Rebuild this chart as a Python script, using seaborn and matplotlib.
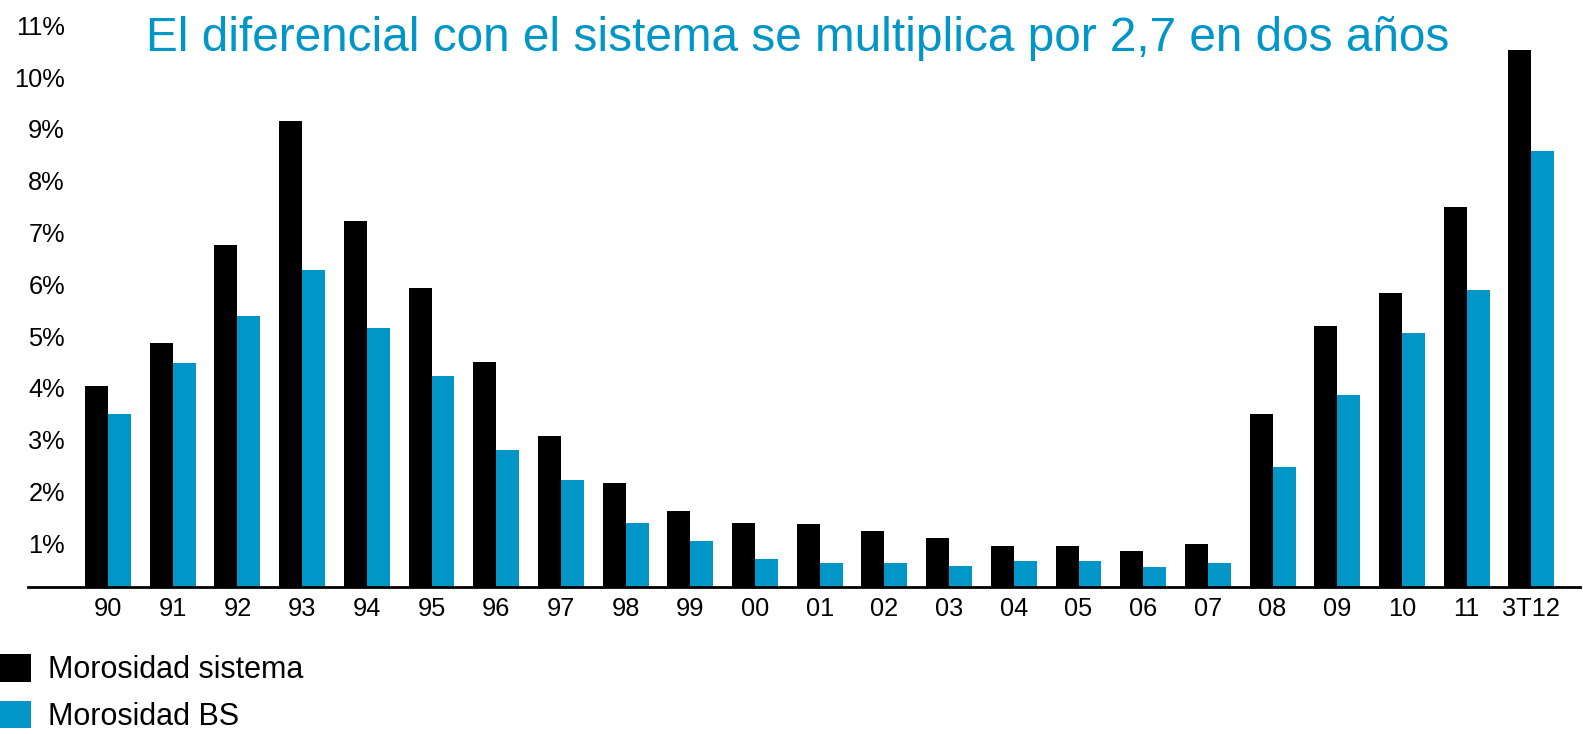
import matplotlib
matplotlib.use("Agg")
import matplotlib.pyplot as plt
from matplotlib.transforms import ScaledTranslation
import seaborn as sns
import pandas as pd

categories = ["90", "91", "92", "93", "94", "95", "96", "97", "98", "99", "00", "01",
              "02", "03", "04", "05", "06", "07", "08", "09", "10", "11", "3T12"]
morosidad_sistema = [3.89, 4.72, 6.60, 8.99, 7.06, 5.77, 4.34, 2.92, 2.01, 1.47, 1.24, 1.22,
                     1.08, 0.95, 0.79, 0.79, 0.69, 0.83, 3.34, 5.04, 5.68, 7.34, 10.37]
morosidad_bs = [3.35, 4.32, 5.23, 6.13, 5.01, 4.07, 2.64, 2.07, 1.24, 0.89, 0.54, 0.46,
                0.46, 0.41, 0.50, 0.50, 0.39, 0.46, 2.32, 3.71, 4.90, 5.74, 8.42]
series_names = ["Morosidad sistema", "Morosidad BS"]
y_ticks = list(range(1, 12))
title = "El diferencial con el sistema se multiplica por 2,7 en dos años"

BLACK = "#000000"
BLUE = "#0096C8"

df = pd.DataFrame({
    "periodo": categories * 2,
    "valor": morosidad_sistema + morosidad_bs,
    "serie": [series_names[0]] * len(categories) + [series_names[1]] * len(categories),
})

sns.set_style("white")
plt.rcParams["font.family"] = ["Liberation Sans", "DejaVu Sans"]
plt.rcParams["text.color"] = "black"

W, H = 1583, 734
fig = plt.figure(figsize=(W / 100, H / 100), dpi=100)
ax = fig.add_axes([28 / W, (H - 587) / H, 1552 / W, 580 / H])

sns.barplot(data=df, x="periodo", y="valor", hue="serie", order=categories,
            hue_order=series_names, palette=[BLACK, BLUE], saturation=1,
            width=0.71, linewidth=0, ax=ax, legend=True)

step = 64.7
left = -(108 - 28) / step
ax.set_xlim(left, left + 1552 / step)
ax.set_ylim(0, 11.2)

ax.set_xlabel("")
ax.set_ylabel("")
ax.set_yticks(y_ticks)
ax.set_yticklabels([f"{t}%" for t in y_ticks])
ax.tick_params(axis="y", length=0, pad=-26.6, labelsize=18.3, colors="black")
ax.tick_params(axis="x", length=0, pad=7.5, labelsize=18.3, colors="black")
for lab in ax.get_yticklabels():
    lab.set_horizontalalignment("right")
    lab.set_transform(lab.get_transform() + ScaledTranslation(0, -8 / 100, fig.dpi_scale_trans))

for s in ["left", "top", "right"]:
    ax.spines[s].set_visible(False)
ax.spines["bottom"].set_color("black")
ax.spines["bottom"].set_linewidth(2)
ax.grid(False)

handles, labels = ax.get_legend_handles_labels()
ax.get_legend().remove()
fs_leg = 22
em = fs_leg * 100 / 72
fig.legend(handles, labels, loc="lower left", bbox_to_anchor=(0, 2 / H),
           frameon=False, fontsize=fs_leg, borderpad=0, borderaxespad=0,
           handlelength=31 / em, handleheight=31 / em, handletextpad=17 / em,
           labelspacing=0.5)

fig.text(146 / W, 1 - 51 / H, title, color=BLUE, fontsize=34.4,
         ha="left", va="baseline")

fig.savefig("out.png", dpi=100)
